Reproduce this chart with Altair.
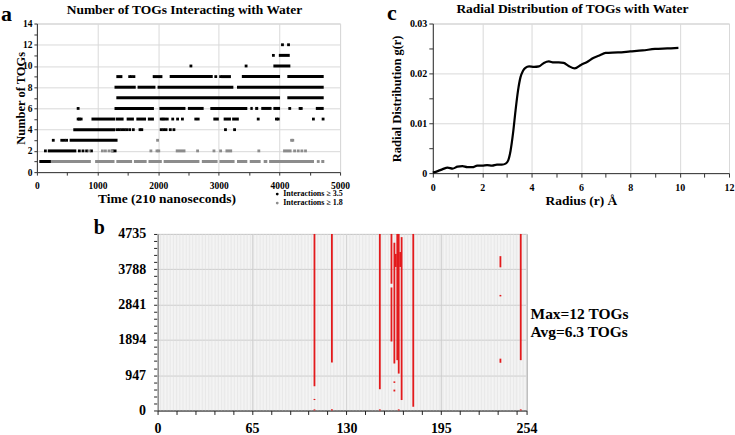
import altair as alt
import pandas as pd

FONT = "Liberation Serif"

# ---------------- Panel a: number of TOGs interacting with water ----------------
SERIES = ["Interactions ≥ 3.5", "Interactions ≥ 1.8"]
SERIES_COLORS = ["#000000", "#8c8c8c"]

# dense runs of frames for the ≥3.5 series: level, first frame, last frame
hi_run_level = [1, 2, 3, 4, 5, 5, 5, 5, 5, 5, 5, 5, 6, 6, 6, 6, 6, 6, 6, 6, 6,
                7, 7, 8, 8, 8, 8, 9, 9, 9, 9, 9, 9, 10, 11]
hi_run_start = [40, 180, 540, 600, 900, 1300, 1480, 1640, 1830, 2910, 3080, 3220,
                1280, 2020, 2490, 2860, 3520, 3600, 3700, 3900, 4600, 1310, 4130,
                1280, 1660, 1990, 3300, 1310, 1910, 2190, 3040, 3380, 4130, 3900, 3990]
hi_run_end = [230, 650, 1330, 1290, 1290, 1430, 1600, 1800, 1930, 3000, 3200, 3330,
              1930, 2450, 2750, 3470, 3560, 3650, 3870, 4010, 4730, 4010, 4730,
              1630, 1955, 3240, 4730, 1410, 2070, 2900, 3200, 4010, 4730, 4180, 4170]

# isolated frames for the ≥3.5 series
hi_pt_level = [2, 2, 2, 2, 2, 2, 2,
               3, 3, 3, 3,
               4, 4, 4, 4, 4, 4, 4, 4, 4, 4, 4, 4, 4, 4, 4, 4,
               5, 5, 5, 5, 5, 5, 5, 5, 5, 5, 5, 5, 5, 5, 5, 5, 5,
               6, 6, 6, 6,
               9, 9, 9, 9, 9,
               10, 10, 11, 12, 12]
hi_pt_time = [140, 700, 760, 820, 900, 1250, 1290,
              270, 410, 450, 490,
              1320, 1360, 1400, 1440, 1480, 1530, 1590, 1700, 1730, 2050, 2090, 2130, 2200, 2260, 3110, 3260,
              680, 700, 730, 2050, 2080, 2110, 2150, 2240, 2320, 2400, 2620, 2660, 3650, 3950, 3980, 4560, 4720,
              680, 4170, 4340, 4360,
              1530, 1560, 1600, 2950, 3030,
              2540, 3450, 3900, 4050, 4150]

# dense runs for the ≥1.8 series
lo_run_level = [1, 1, 1, 1, 1, 1, 1, 1, 1, 1, 1, 1, 1, 2, 2, 2]
lo_run_start = [160, 960, 1310, 1600, 1840, 2090, 2720, 3010, 3300, 3510, 3740, 3830, 4690, 2290, 3110, 4060]
lo_run_end = [890, 1280, 1570, 1810, 2060, 2680, 2980, 3260, 3470, 3690, 3800, 4570, 4740, 2450, 3220, 4200]

# isolated frames for the ≥1.8 series
lo_pt_level = [1, 2, 2, 2, 2, 2, 2, 2, 2, 2, 2, 2, 2, 2, 2, 2, 2, 3, 3, 3]
lo_pt_time = [4640, 860, 1080, 1130, 1190, 1240, 1880, 1980, 2010, 2650, 2920, 3030, 3660,
              4250, 4310, 4370, 4430, 1990, 4200, 4220]

A_X_TICKS = [0, 500, 1000, 1500, 2000, 2500, 3000, 3500, 4000, 4500, 5000]
A_Y_TICKS = [0, 1, 2, 3, 4, 5, 6, 7, 8, 9, 10, 11, 12, 13, 14]

# ---------------- Panel c: radial distribution ----------------
rdf_r = [0, 0.2, 0.4, 0.6, 0.8, 1.0, 1.2, 1.4, 1.6, 1.8, 2.0, 2.2, 2.4, 2.6, 2.8, 2.95,
         3.05, 3.15, 3.25, 3.35, 3.45, 3.55, 3.65, 3.75, 3.9, 4.1, 4.3, 4.5, 4.7, 4.9,
         5.1, 5.3, 5.5, 5.75, 6.0, 6.25, 6.5, 6.75, 7.0, 7.5, 8.0, 8.5, 9.0, 9.5, 9.95]
rdf_g = [0.0001, 0.0004, 0.0008, 0.0011, 0.0009, 0.0013, 0.0014, 0.0012, 0.0012, 0.0015,
         0.0015, 0.0016, 0.0015, 0.0017, 0.0017, 0.0019, 0.0025, 0.0045, 0.0080, 0.0125,
         0.0165, 0.0192, 0.0205, 0.0211, 0.0214, 0.0213, 0.0214, 0.0221, 0.0224, 0.0222,
         0.0222, 0.0221, 0.0215, 0.0210, 0.0217, 0.0223, 0.0231, 0.0236, 0.0241, 0.0242,
         0.0244, 0.0246, 0.0249, 0.0250, 0.0251]
C_X_TICKS = [0, 1, 2, 3, 4, 5, 6, 7, 8, 9, 10, 11, 12]
C_Y_TICKS = [0, 0.005, 0.01, 0.015, 0.02, 0.025, 0.03]

# ---------------- Panel b: per-TOG interaction map ----------------
B_COLUMNS = list(range(0, 255))
red_col = [108, 108, 108, 120, 120, 153, 153, 161, 161, 163, 163, 163, 164, 165, 166, 166,
           167, 168, 176, 236, 236, 236, 250, 250]
red_start = [650, 280, 0, 1290, 0, 570, 0, 3400, 1850, 1260, 740, 510, 3850, 1350, 990, 0,
             3850, 280, 100, 3840, 3060, 1280, 1350, 0]
red_end = [4735, 310, 30, 4735, 30, 4735, 30, 4735, 3300, 4500, 780, 560, 4200, 4735, 4735, 30,
           4250, 4650, 4735, 4140, 3100, 1390, 4735, 30]
B_X_TICKS = [0, 13, 26, 39, 52, 65, 78, 91, 104, 117, 130, 143, 156, 169, 182, 195, 208, 221, 234, 247, 254]
B_Y_TICKS = [0, 189.4, 378.8, 568.2, 757.6, 947, 1136.4, 1325.8, 1515.2, 1704.6, 1894,
             2083.4, 2272.8, 2462.2, 2651.6, 2841, 3030.4, 3219.8, 3409.2, 3598.6, 3788,
             3977.4, 4166.8, 4356.2, 4545.6, 4735]
ANNOTATION = ["Max=12 TOGs", "Avg=6.3 TOGs"]


def label_style(size):
    return dict(labelFont=FONT, labelFontWeight="bold", labelFontSize=size, labelColor="black",
                labelOverlap=False)


def title_style(size):
    return dict(titleFont=FONT, titleFontWeight="bold", titleFontSize=size, titleColor="black")


# ---------- panel a ----------
hi_runs = pd.DataFrame({"level": hi_run_level, "start": hi_run_start, "end": hi_run_end})
lo_runs = pd.DataFrame({"level": lo_run_level, "start": lo_run_start, "end": lo_run_end})
pts = pd.DataFrame({
    "level": hi_pt_level + lo_pt_level,
    "time": hi_pt_time + lo_pt_time,
    "series": [SERIES[0]] * len(hi_pt_level) + [SERIES[1]] * len(lo_pt_level),
})

a_xs = alt.Scale(domain=[0, 5000], nice=False)
a_ys = alt.Scale(domain=[0, 14], nice=False)
a_x_axis = alt.Axis(
    values=A_X_TICKS,
    labelExpr="datum.value % 1000 === 0 ? format(datum.value, 'd') : ''",
    gridOpacity={"condition": {"test": "datum.value % 1000 === 0", "value": 1}, "value": 0},
    gridColor="#d9d9d9", domainColor="#333333", tickColor="#333333", tickSize=3,
    labelPadding=5, labelFlush=False, **label_style(9.5),
    title="Time (210 nanoseconds)", titleX=130, titleY=30, titleAlign="center",
    titleBaseline="alphabetic", **title_style(13.5),
)
a_y_axis = alt.Axis(
    values=A_Y_TICKS,
    labelExpr="datum.value % 2 === 0 ? datum.label : ''",
    gridOpacity={"condition": {"test": "datum.value % 2 === 0", "value": 1}, "value": 0},
    gridColor="#d9d9d9", domainColor="#333333", tickColor="#333333", tickSize=3,
    labelPadding=2, **label_style(9.5),
    title="Number of TOGs", titleX=-12, titleY=74.5, titleAngle=270, titleAlign="center",
    titleBaseline="alphabetic", **title_style(12.5),
)

lo_rule = alt.Chart(lo_runs).mark_rule(color=SERIES_COLORS[1], strokeWidth=3).encode(
    x=alt.X("start:Q", scale=a_xs, axis=a_x_axis), x2="end:Q",
    y=alt.Y("level:Q", scale=a_ys, axis=a_y_axis))
hi_rule = alt.Chart(hi_runs).mark_rule(color=SERIES_COLORS[0], strokeWidth=3).encode(
    x=alt.X("start:Q", scale=a_xs, axis=a_x_axis), x2="end:Q",
    y=alt.Y("level:Q", scale=a_ys, axis=a_y_axis))
pt_layer = alt.Chart(pts).mark_square(size=8, opacity=1).encode(
    x=alt.X("time:Q", scale=a_xs, axis=a_x_axis),
    y=alt.Y("level:Q", scale=a_ys, axis=a_y_axis),
    color=alt.Color("series:N", scale=alt.Scale(domain=SERIES, range=SERIES_COLORS),
                    legend=alt.Legend(orient="none", legendX=237, legendY=167, title=None,
                                      labelFont=FONT, labelFontWeight="bold", labelFontSize=8,
                                      labelColor="black", symbolType="circle", symbolSize=8,
                                      symbolStrokeWidth=0, rowPadding=1, padding=0,
                                      labelOffset=2, symbolOffset=0)))
letter_a = alt.Chart(pd.DataFrame({"k": [0]})).mark_text(
    text="a", font=FONT, fontWeight="bold", fontSize=22, align="left", baseline="alphabetic",
    color="black").encode(x=alt.value(-36), y=alt.value(-3))
title_a = alt.Chart(pd.DataFrame({"k": [0]})).mark_text(
    text="Number of TOGs Interacting with Water", font=FONT, fontWeight="bold", fontSize=13.5,
    align="center", baseline="alphabetic", color="black").encode(x=alt.value(148), y=alt.value(-10))

panel_a = alt.layer(lo_rule, hi_rule, pt_layer, letter_a, title_a).properties(
    width=304, height=149,
    view=alt.ViewBackground(stroke="#d0d0d0", strokeWidth=1),
)

# ---------- panel c ----------
rdf = pd.DataFrame({"r": rdf_r, "g": rdf_g})
c_x_axis = alt.Axis(
    values=C_X_TICKS,
    labelExpr="datum.value % 2 === 0 ? datum.label : ''",
    gridOpacity={"condition": {"test": "datum.value % 2 === 0", "value": 1}, "value": 0},
    gridColor="#d9d9d9", domainColor="#333333", tickColor="#333333", tickSize=4,
    labelPadding=5, labelFlush=False, **label_style(10),
    title="Radius (r) Å", titleX=148.5, titleY=31, titleAlign="center",
    titleBaseline="alphabetic", **title_style(13.5),
)
c_y_axis = alt.Axis(
    values=C_Y_TICKS,
    labelExpr="round(datum.value * 1000) % 10 === 0 ? (datum.value === 0 ? '0' : format(datum.value, '.2f')) : ''",
    gridOpacity={"condition": {"test": "round(datum.value * 1000) % 10 === 0", "value": 1}, "value": 0},
    gridColor="#d9d9d9", domainColor="#333333", tickColor="#333333", tickSize=4,
    labelPadding=2, **label_style(10),
    title="Radial Distribution g(r)", titleX=-32, titleY=75, titleAngle=270, titleAlign="center",
    titleBaseline="alphabetic", **title_style(12.5),
)
c_line = alt.Chart(rdf).mark_line(color="black", strokeWidth=2.2, interpolate="monotone").encode(
    x=alt.X("r:Q", scale=alt.Scale(domain=[0, 12], nice=False), axis=c_x_axis),
    y=alt.Y("g:Q", scale=alt.Scale(domain=[0, 0.03], nice=False), axis=c_y_axis))
letter_c = alt.Chart(pd.DataFrame({"k": [0]})).mark_text(
    text="c", font=FONT, fontWeight="bold", fontSize=22, align="left", baseline="alphabetic",
    color="black").encode(x=alt.value(-46), y=alt.value(-4))
title_c = alt.Chart(pd.DataFrame({"k": [0]})).mark_text(
    text="Radial Distribution of TOGs with Water", font=FONT, fontWeight="bold", fontSize=13.5,
    align="center", baseline="alphabetic", color="black").encode(x=alt.value(140), y=alt.value(-11))

panel_c = alt.layer(c_line, letter_c, title_c).properties(
    width=297, height=150,
    view=alt.ViewBackground(stroke="#d0d0d0", strokeWidth=1),
)

# ---------- panel b ----------
b_xs = alt.Scale(domain=[0, 254], nice=False)
b_ys = alt.Scale(domain=[0, 4735], nice=False)
b_x_test = "indexof([0, 65, 130, 195, 254], datum.value) >= 0"
b_y_test = "abs(datum.value / 947 - round(datum.value / 947)) < 0.001"
b_x_axis = alt.Axis(
    values=B_X_TICKS,
    labelExpr=b_x_test + " ? format(datum.value, 'd') : ''",
    gridOpacity={"condition": {"test": b_x_test, "value": 1}, "value": 0},
    gridColor="#c4c4c4", domainColor="#222222", tickColor="#222222", tickSize=4,
    labelPadding=7, labelFlush=False, title=None, **label_style(14),
)
b_y_axis = alt.Axis(
    values=B_Y_TICKS,
    labelExpr=b_y_test + " ? format(datum.value, 'd') : ''",
    gridOpacity={"condition": {"test": b_y_test, "value": 1}, "value": 0},
    gridColor="#c4c4c4", domainColor="#222222", tickColor="#222222", tickSize=4,
    labelPadding=8, title=None, **label_style(14),
)
stripes = alt.Chart(pd.DataFrame({"col": B_COLUMNS})).mark_rule(
    color="#dedede", strokeWidth=0.7).encode(x=alt.X("col:Q", scale=b_xs, axis=b_x_axis))
reds = alt.Chart(pd.DataFrame({"col": red_col, "start": red_start, "end": red_end})).mark_rule(
    color="#e31a1c", strokeWidth=1.8).encode(
    x=alt.X("col:Q", scale=b_xs, axis=b_x_axis),
    y=alt.Y("start:Q", scale=b_ys, axis=b_y_axis), y2="end:Q")
letter_b = alt.Chart(pd.DataFrame({"k": [0]})).mark_text(
    text="b", font=FONT, fontWeight="bold", fontSize=20, align="left", baseline="alphabetic",
    color="black").encode(x=alt.value(-64), y=alt.value(0))
annot = alt.Chart(pd.DataFrame({"k": [0]})).mark_text(
    text=ANNOTATION, font=FONT, fontWeight="bold", fontSize=15.5, align="left",
    baseline="alphabetic", lineHeight=18, color="black").encode(x=alt.value(374), y=alt.value(85))

panel_b = alt.layer(stripes, reds, letter_b, annot).properties(
    width=370, height=177,
    view=alt.ViewBackground(stroke="#7f7f7f", strokeWidth=1),
)

spacer = alt.Chart(pd.DataFrame({"k": [0]})).mark_point(opacity=0).encode(
    x=alt.value(0), y=alt.value(0)).properties(
    width=121, height=177, view=alt.ViewBackground(stroke="transparent"))

top = alt.hconcat(panel_a, panel_c, spacing=93, bounds="flush").resolve_scale(color="independent")
bottom = alt.hconcat(spacer, panel_b, spacing=0, bounds="flush")
chart = alt.vconcat(top, bottom, spacing=9, padding=0).resolve_scale(
    color="independent").configure(background="white")

chart.save("out.html", embed_options={"renderer": "svg", "actions": False})
